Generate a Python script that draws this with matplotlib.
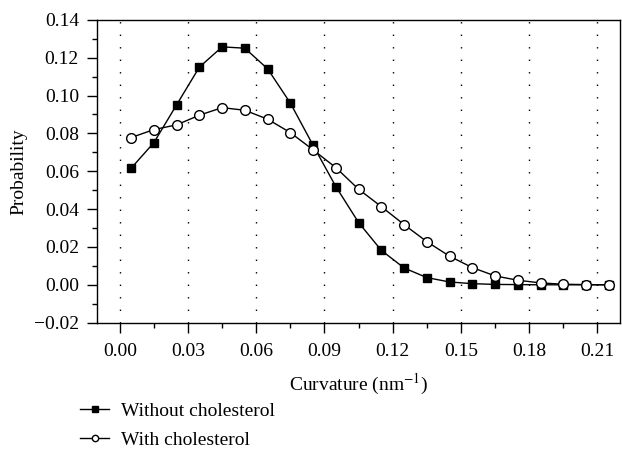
import numpy as np
import matplotlib.pyplot as plt
from matplotlib.ticker import MultipleLocator

plt.rcParams['font.family'] = ['Liberation Serif', 'DejaVu Serif']
plt.rcParams['mathtext.fontset'] = 'stix'

# curvature bins (nm^-1)
curv = [0.005, 0.015, 0.025, 0.035, 0.045, 0.055, 0.065, 0.075, 0.085, 0.095, 0.105,
        0.115, 0.125, 0.135, 0.145, 0.155, 0.165, 0.175, 0.185, 0.195, 0.205, 0.215]

without_chol = [0.0616, 0.0751, 0.0951, 0.1150, 0.1257, 0.1250, 0.1141, 0.0960, 0.0737, 0.0519, 0.0329,
                0.0182, 0.0089, 0.0038, 0.0015, 0.0006, 0.0002, 0.0001, 0.0, 0.0, 0.0, 0.0]
with_chol = [0.0778, 0.0820, 0.0845, 0.0896, 0.0936, 0.0922, 0.0875, 0.0804, 0.0713, 0.0619, 0.0505,
             0.0413, 0.0318, 0.0228, 0.0151, 0.0091, 0.0047, 0.0024, 0.0010, 0.0003, 0.0001, 0.0]

fig = plt.figure(figsize=(6.22, 4.5), dpi=100)
ax = fig.add_axes([0.156, 0.283, 0.841, 0.673])

ax.plot(curv, without_chol, color='black', lw=1.0, marker='s', ms=6,
        mfc='black', mec='black', label='Without cholesterol')
ax.plot(curv, with_chol, color='black', lw=1.0, marker='o', ms=7,
        mfc='white', mec='black', mew=1.0, label='With cholesterol')

ax.set_xlim(-0.01, 0.22)
ax.set_ylim(-0.02, 0.14)
ax.xaxis.set_major_locator(MultipleLocator(0.03))
ax.xaxis.set_minor_locator(MultipleLocator(0.015))
ax.yaxis.set_major_locator(MultipleLocator(0.02))
ax.yaxis.set_minor_locator(MultipleLocator(0.01))
ax.xaxis.set_major_formatter(plt.FuncFormatter(lambda v, p: f"{v:.2f}"))
ax.yaxis.set_major_formatter(plt.FuncFormatter(lambda v, p: f"{v:.2f}".replace('-', '\u2212')))

ax.tick_params(which='both', direction='out', labelsize=14, width=1)
ax.tick_params(which='major', length=7)
ax.tick_params(which='minor', length=3.5)
ax.tick_params(axis='x', which='both', top=False, pad=8)
ax.tick_params(axis='y', which='both', right=False, pad=6)

ax.grid(axis='x', which='major', color='black', lw=1, linestyle=(0, (1, 8)))
for s in ax.spines.values():
    s.set_linewidth(1)

ax.set_xlabel('Curvature (nm$^{-1}$)', fontsize=14, labelpad=8)
ax.set_ylabel('Probability', fontsize=14, labelpad=5)

ax.legend(loc='upper left', bbox_to_anchor=(0.129, 0.106), bbox_transform=fig.transFigure,
          frameon=False, fontsize=14, handlelength=1.5, markerscale=0.65,
          labelspacing=0.6, handletextpad=0.6, borderaxespad=0, borderpad=0)

fig.savefig('out.png', dpi=100)
